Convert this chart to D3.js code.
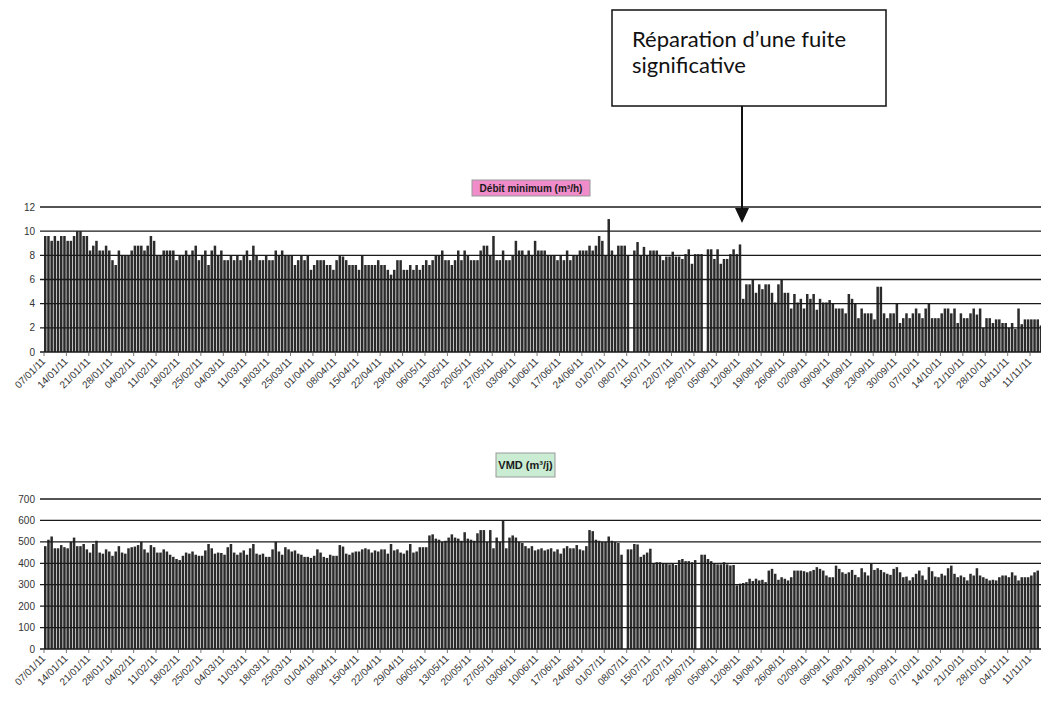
<!DOCTYPE html>
<html><head><meta charset="utf-8">
<script src="https://cdn.jsdelivr.net/npm/d3@7"></script>
<style>body{margin:0;background:#fff}svg{display:block}</style>
</head><body>
<svg id="c" width="1041" height="704"></svg>
<script>
// ---- DATA ----
const startDate = "07/01/11";
const tickLabels = ["07/01/11","14/01/11","21/01/11","28/01/11","04/02/11","11/02/11","18/02/11","25/02/11","04/03/11","11/03/11","18/03/11","25/03/11","01/04/11","08/04/11","15/04/11","22/04/11","29/04/11","06/05/11","13/05/11","20/05/11","27/05/11","03/06/11","10/06/11","17/06/11","24/06/11","01/07/11","08/07/11","15/07/11","22/07/11","29/07/11","05/08/11","12/08/11","19/08/11","26/08/11","02/09/11","09/09/11","16/09/11","23/09/11","30/09/11","07/10/11","14/10/11","21/10/11","28/10/11","04/11/11","11/11/11"];
const minFlowTicks = [0,2,4,6,8,10,12];
const vmdTicks = [0,100,200,300,400,500,600,700];
const minFlowTitle = "Débit minimum (m³/h)";
const vmdTitle = "VMD (m³/j)";
const note = ["Réparation d’une fuite","significative"];

// Débit minimum (m³/h), one value per day from 07/01/11 (null = no data)
const minFlow = [
 9.6,9.6,9.2,9.6,9.2,9.6,9.6, 9.2,9.2,9.6,10,10,9.6,9.6, 8.4,8.8,9.2,8.4,8.4,8.8,8.4,
 7.6,7.2,8.4,8.0,8.0,8.0,8.4, 8.8,8.8,8.8,8.4,8.8,9.6,9.2, 8.0,8.0,8.4,8.4,8.4,8.4,7.6,
 8.0,8.0,8.4,8.0,8.4,8.8,7.6, 8.0,8.4,7.2,8.4,8.8,8.0,8.4, 7.6,7.6,8.0,7.6,8.0,7.6,8.0,
 8.4,7.6,8.8,8.0,7.6,7.6,8.0, 7.6,7.6,8.4,8.0,8.4,8.0,8.0, 8.0,7.2,7.6,8.0,7.6,8.0,6.8,
 7.2,7.6,7.6,7.6,7.2,7.2,6.8, 7.6,8.0,
 7.9,7.6,7.2,7.2,7.2,6.8,8.0,7.2,7.2,7.2, 7.2,7.6,7.2,7.2,6.8,6.4,6.8,7.6,7.6,6.8,
 6.8,7.2,6.8,7.2,6.8,7.2,7.6,7.2,7.6,8.0, 8.0,8.4,7.6,7.6,7.2,7.6,8.4,7.6,8.4,8.0,
 7.6,7.6,7.6,8.4,8.8,8.8,8.0,9.6,7.6,7.6, 8.4,7.6,7.6,8.0,9.2,8.4,8.4,8.0,8.4,8.0,
 9.2,8.4,8.4,8.4,8.0,8.0,8.0,7.6,8.0,7.6, 8.4,7.6,8.0,8.0,8.4,8.4,8.4,8.8,8.4,8.8,9.6,9.2,8.0,
 11.0, 8.4,8.0,8.8,8.8,8.8,8.0, null,
 8.4,9.1,8.0,8.7,8.0,8.4,8.4,8.4,8.0,7.6,7.9,7.9,8.3,7.9,7.9, 7.7,8.1,8.5,7.3,8.1,8.1,8.1, null,
 8.5,8.5,7.7,8.5,7.3,7.7,7.7,8.1,8.5,8.1,8.9,
 4.4,5.6,5.6,6.0,4.9,5.6,5.2,5.6,5.6,4.9, 4.1,5.6,6.0,4.9,4.9,3.6,4.8,4.1,4.4,3.6,
 4.8,4.4,4.8,3.5,4.4,4.1,4.1,4.3,4.0,3.6, 3.6,3.6,3.2,4.8,4.4,4.0,2.8,3.6,3.2,3.2, 3.2,2.7,
 5.4,5.4,
 3.2,2.8,3.2,3.2,4.0,2.4,2.8,3.2,2.8,3.2, 3.6,3.2,2.8,3.6,4.0,2.8,2.8,2.8,3.2,3.6,
 3.6,3.2,3.6,2.4,3.2,2.8,2.8,3.2,3.6,3.1, 3.6,2.0,2.8,2.8,2.4,2.7,2.7,2.4,2.4,2.0,
 2.4,1.9,3.6,2.3,2.7,2.7,2.7,2.7,2.7,2.2
];

// VMD (m³/j), one value per day from 07/01/11 (null = no data)
const vmd = [
 480,510,525,470,470,485,475,470,500,520, 480,480,490,465,450,490,505,450,445,465,
 455,435,455,480,450,445,470,475,478,485, 500,465,450,485,475,450,450,465,455,440,
 430,420,415,435,450,445,455,440,435,435, 460,490,470,445,450,448,440,475,490,450,
 440,450,460,440,470,490,445,440,445,430, 430,465,500,455,440,475,465,455,460,445,
 440,430,430,425,435,465,450,430,425,440, 435,435,485,478,445,440,
 450,455,455,465,470,465,450,460,455, 465,465,445,490,460,465,450,445,460,490,
 450,455,475,475,475,530,535,515,510,500, 505,520,535,520,515,505,545,515,510,505,
 540,555,555,500,555,470,520,500,
 600,
 470,520,530,520,500,495,480,470,480,460, 465,470,460,465,470,455,465,445,470,480,
 470,470,485,465,460,480,
 555,550,
 510,505,500,500,525,505,500,495,440, null,
 465,465,490,488,430,440,450,468,400,405, 405,398,400,395,400,392, 415,420,410,410,405,415, null,
 440,440,420,410,400,395,395,405,395,390,392,
 297,305,308,312,328,317,328,320,323,312,366,374,351,
 323,335,328,320,335,366,366,366,363,358,363,369,382,374,366,343,
 335,335,389,374,358,351,358,369,346,335,377,358,343,397,369,
 377,369,358,351,346,374,382,358,335,338,320,335,351,366,343,
 323,382,363,338,335,351,343,377,389,351,335,343,335,320,351,
 343,377,343,335,328,320,323,320,335,343,343,335,358,343,320,335,335,335,343,358,366
];

// ---- DRAW ----
const svg = d3.select("#c");
const FONT = "'Liberation Sans', Arial, sans-serif";
const days = d3.range(minFlow.length);
const x = d3.scaleBand().domain(days).range([44, 1042]).paddingInner(0.28).paddingOuter(0);
const tickIdx = tickLabels.map((t, i) => i * 7);

function panel(data, yDomain, yRange, ticks, title, box) {
  const y = d3.scaleLinear().domain(yDomain).range(yRange);
  const g = svg.append("g");
  g.selectAll("rect.bar").data(days.filter(i => data[i] != null)).join("rect")
    .attr("class","bar")
    .attr("x", i => x(i)).attr("width", x.bandwidth() + 0.2)
    .attr("y", i => y(data[i])).attr("height", i => y(0) - y(data[i]))
    .attr("fill", "#2b2b2b");
  g.selectAll("line.grid").data(ticks).join("line")
    .attr("class","grid")
    .attr("x1", 40).attr("x2", 1041)
    .attr("y1", d => y(d)).attr("y2", d => y(d))
    .attr("stroke", "#1a1a1a").attr("stroke-width", 1.3);
  g.selectAll("text.yl").data(ticks).join("text")
    .attr("class","yl")
    .attr("x", 35).attr("y", d => y(d) + 3.5)
    .attr("text-anchor","end").attr("font-family", FONT).attr("font-size", 10)
    .attr("fill","#333").text(d => d);
  const base = y(0);
  g.selectAll("line.xt").data(tickIdx).join("line")
    .attr("class","xt")
    .attr("x1", i => x(i)).attr("x2", i => x(i))
    .attr("y1", base).attr("y2", base + 4)
    .attr("stroke","#555").attr("stroke-width",0.8);
  g.selectAll("text.xl").data(tickIdx).join("text")
    .attr("class","xl")
    .attr("transform", i => `translate(${x(i) + 2},${base + 10}) rotate(-45)`)
    .attr("text-anchor","end").attr("font-family", FONT).attr("font-size", 10)
    .attr("fill","#333").text((i, k) => tickLabels[k]);
  g.append("rect").attr("x", box.x).attr("y", box.y).attr("width", box.w).attr("height", box.h)
    .attr("fill", box.fill).attr("stroke", "#999").attr("stroke-width", 1);
  g.append("text").attr("x", box.x + box.w / 2).attr("y", box.y + box.h / 2 + box.fs * 0.36)
    .attr("text-anchor","middle").attr("font-family", FONT).attr("font-weight","bold")
    .attr("font-size", box.fs).attr("fill","#1a1a1a").text(title);
}

panel(minFlow, [0, 12], [352, 207], minFlowTicks, minFlowTitle,
  {x: 472, y: 180, w: 118, h: 16, fill: "#ef8cc9", fs: 10});
panel(vmd, [0, 700], [649, 499], vmdTicks, vmdTitle,
  {x: 496, y: 453, w: 59, h: 24, fill: "#c9ecd3", fs: 11});

// annotation
svg.append("rect").attr("x", 612).attr("y", 10).attr("width", 274).attr("height", 96)
  .attr("fill","#fff").attr("stroke","#111").attr("stroke-width",1.5);
svg.selectAll("text.note").data(note).join("text").attr("class","note")
  .attr("x", 632).attr("y", (d, i) => 47 + i * 26)
  .attr("font-family","Lato, 'Open Sans', sans-serif").attr("font-size", 22)
  .attr("fill","#111").text(d => d);
const ax = 742;
svg.append("line").attr("x1", ax).attr("x2", ax).attr("y1", 106).attr("y2", 210)
  .attr("stroke","#111").attr("stroke-width",2);
svg.append("path").attr("d", `M${ax-7},208 L${ax+7},208 L${ax},223 Z`).attr("fill","#111");
</script>
</body></html>
